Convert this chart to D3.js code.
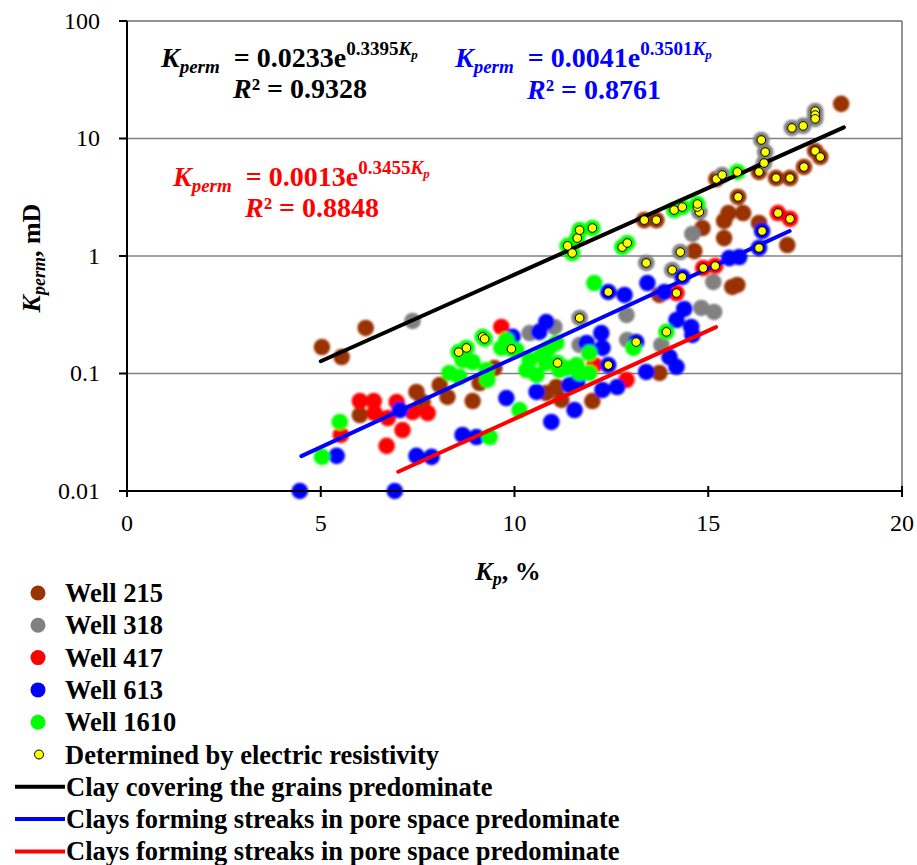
<!DOCTYPE html>
<html>
<head>
<meta charset="utf-8">
<script src="https://cdn.jsdelivr.net/npm/d3@7"></script>
<style>
  body { margin: 0; background: #ffffff; }
  svg { display: block; }
</style>
</head>
<body>
<svg id="chart" width="917" height="865"></svg>
<script>
// ---- Axis ticks ----
const xTicks = [0, 5, 10, 15, 20];
const yTicks = [0.01, 0.1, 1, 10, 100];
const yTickLabels = ["0.01", "0.1", "1", "10", "100"];

// ---- Core samples: [Kp %, Kperm mD] per well ----
const well215 = [
  [5.03, 0.168], [5.54, 0.138], [6.16, 0.244], [6.01, 0.0443], [7.47, 0.0696],
  [7.63, 0.0572], [8.07, 0.0798], [8.27, 0.0631], [8.92, 0.0583], [9.10, 0.0830],
  [9.48, 0.111], [10.82, 0.0682], [11.08, 0.0767], [11.21, 0.0595], [12.01, 0.0583],
  [13.74, 0.101], [13.74, 0.466], [14.64, 1.10], [14.85, 1.73], [15.41, 1.42],
  [15.41, 1.99], [15.52, 2.32], [15.90, 2.32], [16.31, 1.91], [17.04, 1.24],
  [15.62, 0.545], [15.75, 0.567], [18.43, 19.7]
];
const well318 = [
  [7.37, 0.280], [10.39, 0.221], [11.03, 0.249], [12.89, 0.315], [11.68, 0.175],
  [14.59, 1.54], [15.13, 0.601], [14.82, 0.361], [15.15, 0.334], [13.79, 0.175],
  [12.91, 0.193]
];
const well417 = [
  [6.01, 0.0583], [6.37, 0.0583], [6.96, 0.0572], [6.39, 0.0461], [6.73, 0.0418],
  [7.37, 0.0470], [7.76, 0.0461], [7.11, 0.0330], [5.52, 0.0300], [6.70, 0.0242],
  [9.66, 0.249], [12.06, 0.118], [12.89, 0.0881]
];
const well613 = [
  [4.46, 0.01], [6.91, 0.01], [5.41, 0.0199], [7.04, 0.0489], [7.47, 0.0199],
  [7.86, 0.0195], [8.66, 0.0300], [9.02, 0.0288], [9.79, 0.0618], [10.57, 0.0696],
  [10.95, 0.0387], [11.55, 0.0489], [11.42, 0.0798], [11.62, 0.0847], [10.82, 0.274],
  [10.64, 0.226], [9.95, 0.205], [11.86, 0.182], [12.24, 0.221], [12.27, 0.165],
  [12.27, 0.0724], [12.65, 0.0767], [12.84, 0.466], [13.43, 0.589], [13.87, 0.494],
  [13.40, 0.103], [14.00, 0.138], [14.18, 0.114], [14.38, 0.354], [14.18, 0.285],
  [14.56, 0.249], [14.59, 0.213], [15.54, 0.96], [15.80, 0.98]
];
const well1610 = [
  [5.03, 0.0195], [5.49, 0.0387], [8.32, 0.101], [8.58, 0.0934], [8.66, 0.130],
  [8.92, 0.125], [9.28, 0.107], [9.30, 0.0881], [9.79, 0.193], [9.66, 0.165],
  [10.05, 0.158], [10.39, 0.130], [10.31, 0.107], [10.57, 0.0971], [10.82, 0.123],
  [10.90, 0.165], [11.08, 0.182], [11.34, 0.111], [11.60, 0.118], [11.68, 0.101],
  [11.93, 0.101], [11.93, 0.149], [10.13, 0.0489], [9.36, 0.0288], [12.06, 0.589],
  [13.07, 0.165], [10.70, 0.144], [11.16, 0.107]
];

// ---- Samples whose permeability was determined by electric resistivity ----
const resist215 = [
  [13.35, 2.02], [13.66, 2.02], [15.77, 3.18], [15.21, 4.52], [16.31, 5.19],
  [16.75, 4.61], [17.11, 4.61], [17.47, 5.72], [17.76, 7.83], [17.89, 6.96]
];
const resist318 = [
  [11.68, 0.297], [13.40, 0.872], [14.07, 0.760], [14.28, 1.08], [14.77, 2.37],
  [14.72, 2.61], [15.36, 4.89], [16.37, 9.71], [16.47, 7.67], [16.44, 6.18],
  [17.16, 12.3], [17.45, 12.8], [17.76, 17.1], [17.76, 15.85], [17.76, 14.7]
];
const resist417 = [
  [14.18, 0.484], [14.87, 0.790], [15.18, 0.822], [16.80, 2.32], [17.11, 2.07]
];
const resist613 = [
  [12.42, 0.494], [14.33, 0.663], [16.31, 1.17], [16.39, 1.63], [13.14, 0.185],
  [12.42, 0.118]
];
const resist1610 = [
  [8.56, 0.152], [8.76, 0.165], [9.18, 0.205], [9.23, 0.197], [9.92, 0.162],
  [11.11, 0.123], [11.37, 1.22], [11.49, 1.06], [11.62, 1.42], [11.68, 1.66],
  [12.01, 1.73], [12.78, 1.19], [12.91, 1.29], [14.12, 2.46], [14.33, 2.61],
  [14.72, 2.77], [15.75, 5.19], [13.92, 0.226]
];

// ---- Series metadata ----
const wellNames = ["Well 215", "Well 318", "Well 417", "Well 613", "Well 1610"];
const wellColors = ["#993300", "#808080", "#ff0000", "#0000ff", "#00ff00"];
const wellCore = [well215, well318, well417, well613, well1610];
const wellResist = [resist215, resist318, resist417, resist613, resist1610];

// ---- Exponential fits Kperm = a * exp(b * Kp) ----
const fitNames = [
  "Clay covering the grains predominate",
  "Clays forming streaks in pore space predominate",
  "Clays forming streaks in pore space predominate"
];
const fitColors = ["#000000", "#0000ff", "#ff0000"];
const fitA = [0.0233, 0.0041, 0.0013];
const fitB = [0.3395, 0.3501, 0.3455];
const fitR2 = ["0.9328", "0.8761", "0.8848"];
const fitFrom = [5.0, 4.5, 7.0];
const fitTo = [18.5, 17.1, 15.2];

// ---- Layout ----
const svg = d3.select("#chart")
  .style("font-family", "'Liberation Serif', 'Times New Roman', Tinos, serif");
const plot = { left: 127, right: 902, top: 21, bottom: 491 };
const x = d3.scaleLinear().domain([0, 20]).range([plot.left, plot.right]);
const y = d3.scaleLog().domain([0.01, 100]).range([plot.bottom, plot.top]);

const defs = svg.append("defs");
defs.append("filter").attr("id", "soft")
  .attr("x", "-30%").attr("y", "-30%").attr("width", "160%").attr("height", "160%")
  .append("feGaussianBlur").attr("stdDeviation", 0.8);

// gridlines and frame
const grid = svg.append("g");
yTicks.slice(1, -1).forEach(v => {
  grid.append("line").attr("x1", plot.left).attr("x2", plot.right)
    .attr("y1", y(v)).attr("y2", y(v)).attr("stroke", "#808080").attr("stroke-width", 1.3);
});
grid.append("line").attr("x1", plot.left).attr("x2", plot.right)
  .attr("y1", plot.top).attr("y2", plot.top).attr("stroke", "#707070").attr("stroke-width", 1.5);
grid.append("line").attr("x1", plot.right).attr("x2", plot.right)
  .attr("y1", plot.top).attr("y2", plot.bottom).attr("stroke", "#707070").attr("stroke-width", 1.5);

// markers: coloured discs for every sample of each well
const marks = svg.append("g").attr("filter", "url(#soft)");
wellCore.forEach((pts, i) => {
  const all = pts.concat(wellResist[i]);
  marks.append("g").selectAll("circle").data(all).join("circle")
    .attr("cx", d => x(d[0])).attr("cy", d => y(d[1])).attr("r", 8.3)
    .attr("fill", wellColors[i]);
});

// trend lines
const line = d3.line().x(d => x(d[0])).y(d => y(d[1]));
fitA.forEach((a, i) => {
  const pts = [fitFrom[i], fitTo[i]].map(k => [k, a * Math.exp(fitB[i] * k)]);
  svg.append("path").attr("d", line(pts)).attr("fill", "none")
    .attr("stroke", fitColors[i]).attr("stroke-width", 4).attr("stroke-linecap", "round");
});

// resistivity-derived samples on top
const dots = svg.append("g");
wellResist.forEach(pts => {
  dots.append("g").selectAll("circle").data(pts).join("circle")
    .attr("cx", d => x(d[0])).attr("cy", d => y(d[1])).attr("r", 4.3)
    .attr("fill", "#ffff00").attr("stroke", "#000").attr("stroke-width", 1);
});

// axes
const axisG = svg.append("g").attr("stroke", "#000");
axisG.append("line").attr("x1", plot.left).attr("x2", plot.left)
  .attr("y1", plot.top).attr("y2", plot.bottom + 6).attr("stroke-width", 2);
axisG.append("line").attr("x1", plot.left - 8).attr("x2", plot.right)
  .attr("y1", plot.bottom).attr("y2", plot.bottom).attr("stroke-width", 2);
yTicks.forEach(v => {
  axisG.append("line").attr("x1", plot.left - 8).attr("x2", plot.left)
    .attr("y1", y(v)).attr("y2", y(v)).attr("stroke-width", 2);
});
xTicks.forEach(v => {
  axisG.append("line").attr("x1", x(v)).attr("x2", x(v))
    .attr("y1", plot.bottom - 5).attr("y2", plot.bottom + 6).attr("stroke-width", 2);
});

const tickFont = 24;
yTicks.forEach((v, i) => {
  svg.append("text").attr("x", plot.left - 27).attr("y", y(v)).attr("dy", "0.33em")
    .attr("text-anchor", "end").attr("font-size", tickFont).text(yTickLabels[i]);
});
xTicks.forEach(v => {
  svg.append("text").attr("x", x(v)).attr("y", 531)
    .attr("text-anchor", "middle").attr("font-size", tickFont).text(String(v));
});

// axis titles
const xt = svg.append("text").attr("x", 508).attr("y", 580).attr("text-anchor", "middle")
  .attr("font-size", 26).attr("font-weight", "bold");
xt.append("tspan").attr("font-style", "italic").text("K");
xt.append("tspan").attr("font-style", "italic").attr("font-size", 18).attr("dy", 5).text("p");
xt.append("tspan").attr("dy", -5).text(", %");

const yt = svg.append("text").attr("transform", "translate(40,258) rotate(-90)")
  .attr("text-anchor", "middle").attr("font-size", 26).attr("font-weight", "bold");
yt.append("tspan").attr("font-style", "italic").text("K");
yt.append("tspan").attr("font-style", "italic").attr("font-size", 18).attr("dy", 5).text("perm");
yt.append("tspan").attr("dy", -5).text(", mD");

// regression equations
const eqPos = [[161, 67, 233, 98], [455, 67, 527, 99], [173, 186, 245, 217]];
const eqFont = 28;
fitA.forEach((a, i) => {
  const [ex, ey, rx, ry] = eqPos[i];
  const t = svg.append("text").attr("x", ex).attr("y", ey).attr("font-size", eqFont)
    .attr("font-weight", "bold").attr("fill", fitColors[i]);
  t.append("tspan").attr("font-style", "italic").text("K");
  t.append("tspan").attr("font-style", "italic").attr("font-size", 19).attr("dy", 6).text("perm");
  t.append("tspan").attr("dy", -6).attr("dx", 14).text("= " + a.toFixed(4) + "e");
  t.append("tspan").attr("font-size", 19).attr("dy", -12).text(fitB[i].toFixed(4));
  t.append("tspan").attr("font-size", 19).attr("font-style", "italic").text("K");
  t.append("tspan").attr("font-size", 13).attr("font-style", "italic").attr("dy", 4).text("p");
  const r = svg.append("text").attr("x", rx).attr("y", ry).attr("font-size", eqFont)
    .attr("font-weight", "bold").attr("fill", fitColors[i]);
  r.append("tspan").attr("font-style", "italic").text("R");
  r.append("tspan").text("² = " + fitR2[i]);
});

// legend
const legFont = 26.5;
const legY0 = 593, legStep = 32.3;
wellNames.forEach((n, i) => {
  const ly = legY0 + i * legStep;
  svg.append("circle").attr("cx", 38).attr("cy", ly).attr("r", 7.5).attr("fill", wellColors[i]);
  svg.append("text").attr("x", 65).attr("y", ly).attr("dy", "0.34em")
    .attr("font-size", legFont).attr("font-weight", "bold").text(n);
});
{
  const ly = legY0 + 5 * legStep;
  svg.append("circle").attr("cx", 39).attr("cy", ly).attr("r", 4.5)
    .attr("fill", "#ffff00").attr("stroke", "#000").attr("stroke-width", 1);
  svg.append("text").attr("x", 65).attr("y", ly).attr("dy", "0.34em")
    .attr("font-size", legFont).attr("font-weight", "bold").text("Determined by electric resistivity");
}
fitNames.forEach((n, i) => {
  const ly = legY0 + (6 + i) * legStep;
  svg.append("line").attr("x1", 15).attr("x2", 65).attr("y1", ly).attr("y2", ly)
    .attr("stroke", fitColors[i]).attr("stroke-width", 4);
  svg.append("text").attr("x", 66).attr("y", ly).attr("dy", "0.34em")
    .attr("font-size", legFont).attr("font-weight", "bold").text(n);
});
</script>
</body>
</html>
